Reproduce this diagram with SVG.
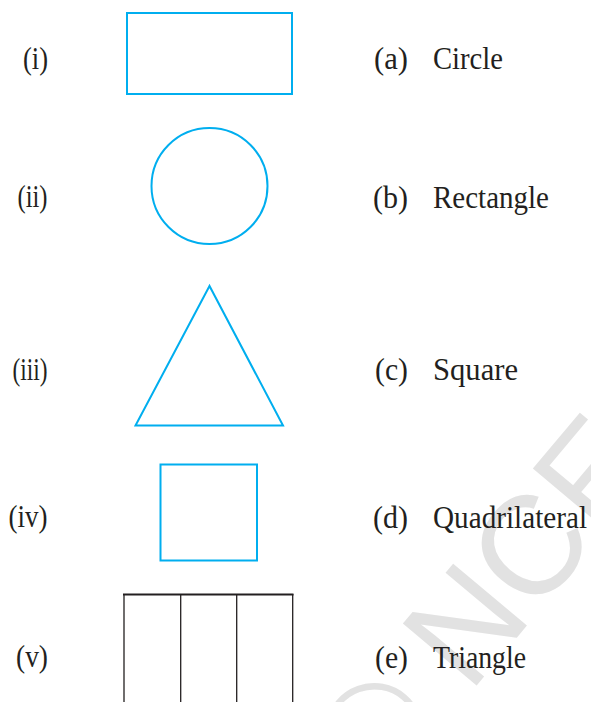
<svg xmlns="http://www.w3.org/2000/svg" width="591" height="702" viewBox="0 0 591 702">
<style>
.shape{fill:none;stroke:#00aeef;stroke-width:2}
.lbl{font-family:"Liberation Serif","Times New Roman",serif;font-size:32px;fill:#231f20}
.wm{font-family:"Liberation Sans",Arial,sans-serif;font-size:140px;fill:#e2e2e2}
.grid{stroke:#231f20;fill:none}
</style>
<rect width="591" height="702" fill="#fff"/>
<g id="watermark">
<text class="wm" transform="translate(378,803) rotate(-50)">© NCERT</text>
</g>
<g id="item-i">
<text class="lbl" x="23" y="69" textLength="25" lengthAdjust="spacingAndGlyphs">(i)</text>
<rect class="shape" x="127" y="13" width="165" height="81"/>
</g>
<g id="item-ii">
<text class="lbl" x="17.5" y="207" textLength="30" lengthAdjust="spacingAndGlyphs">(ii)</text>
<circle class="shape" cx="209.5" cy="186" r="58"/>
</g>
<g id="item-iii">
<text class="lbl" x="12.5" y="380" textLength="35" lengthAdjust="spacingAndGlyphs">(iii)</text>
<polygon class="shape" points="209.5,286 135.5,425.5 283,425.5"/>
</g>
<g id="item-iv">
<text class="lbl" x="8.5" y="527" textLength="39" lengthAdjust="spacingAndGlyphs">(iv)</text>
<rect class="shape" x="160.5" y="464.5" width="96.5" height="96"/>
</g>
<g id="item-v">
<text class="lbl" x="16" y="667" textLength="32" lengthAdjust="spacingAndGlyphs">(v)</text>
<line class="grid" x1="123" y1="594.5" x2="293.5" y2="594.5" stroke-width="2"/>
<line class="grid" x1="124" y1="594" x2="124" y2="702" stroke-width="1.3"/>
<line class="grid" x1="180.7" y1="594" x2="180.7" y2="702" stroke-width="1.3"/>
<line class="grid" x1="236.7" y1="594" x2="236.7" y2="702" stroke-width="1.3"/>
<line class="grid" x1="292.7" y1="594" x2="292.7" y2="702" stroke-width="1.3" stroke="#555"/>
</g>
<g id="item-a">
<text class="lbl" x="374" y="69" textLength="34" lengthAdjust="spacingAndGlyphs">(a)</text>
<text class="lbl" x="433" y="69" textLength="70" lengthAdjust="spacingAndGlyphs">Circle</text>
</g>
<g id="item-b">
<text class="lbl" x="373" y="208" textLength="35" lengthAdjust="spacingAndGlyphs">(b)</text>
<text class="lbl" x="433" y="208" textLength="116" lengthAdjust="spacingAndGlyphs">Rectangle</text>
</g>
<g id="item-c">
<text class="lbl" x="375" y="380" textLength="33" lengthAdjust="spacingAndGlyphs">(c)</text>
<text class="lbl" x="433" y="380" textLength="85" lengthAdjust="spacingAndGlyphs">Square</text>
</g>
<g id="item-d">
<text class="lbl" x="373" y="528" textLength="35" lengthAdjust="spacingAndGlyphs">(d)</text>
<text class="lbl" x="433" y="528" textLength="154" lengthAdjust="spacingAndGlyphs">Quadrilateral</text>
</g>
<g id="item-e">
<text class="lbl" x="375" y="668" textLength="33" lengthAdjust="spacingAndGlyphs">(e)</text>
<text class="lbl" x="433" y="668" textLength="93" lengthAdjust="spacingAndGlyphs">Triangle</text>
</g>
</svg>
